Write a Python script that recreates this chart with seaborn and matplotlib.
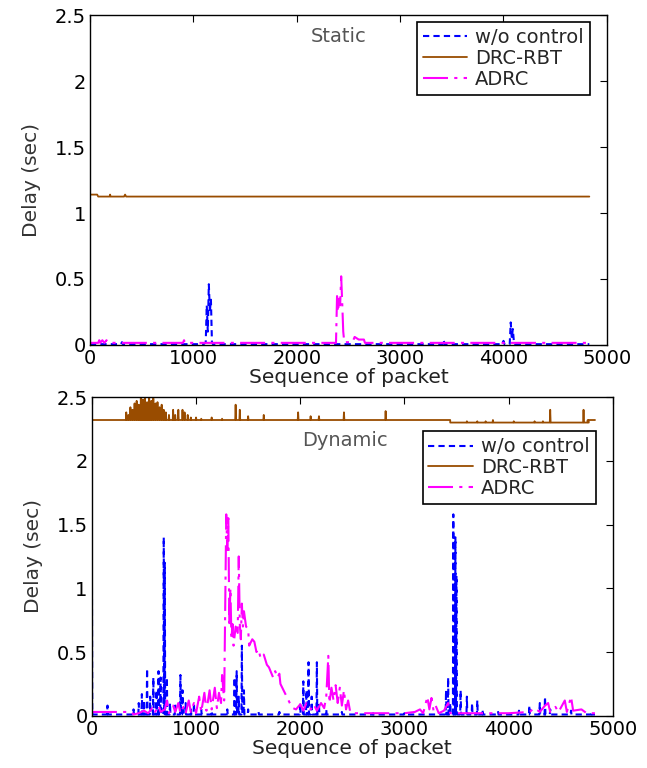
import numpy as np
import pandas as pd
import matplotlib
matplotlib.use("Agg")
import matplotlib.pyplot as plt
import seaborn as sns

# ---------------- data ----------------
# Static scenario
st_wo_x = [0, 300, 310, 320, 1100, 1120, 1130, 1140, 1150, 1160, 1170, 1180, 1190,
           3410, 3420, 3430, 3990, 4000, 4010, 4060, 4070, 4080, 4090, 4100, 4110, 4830]
st_wo_y = [0.005, 0.005, 0.02, 0.005, 0.005, 0.02, 0.30, 0.10, 0.46, 0.25, 0.35, 0.02, 0.005,
           0.005, 0.04, 0.005, 0.005, 0.03, 0.005, 0.005, 0.17, 0.05, 0.12, 0.03, 0.005, 0.005]
st_drc_x = [0, 70, 80, 190, 195, 200, 330, 340, 350, 4830]
st_drc_y = [1.14, 1.14, 1.125, 1.125, 1.14, 1.125, 1.125, 1.14, 1.125, 1.125]
st_adrc_x = [0, 80, 90, 100, 120, 140, 160, 180, 200, 900, 910, 920, 2380, 2390, 2400, 2410,
             2420, 2430, 2440, 2450, 2460, 2540, 2560, 2600, 2650, 2660, 4830]
st_adrc_y = [0.015, 0.015, 0.035, 0.015, 0.035, 0.015, 0.035, 0.015, 0.015, 0.015, 0.035, 0.015,
             0.015, 0.37, 0.25, 0.35, 0.30, 0.52, 0.32, 0.10, 0.02, 0.02, 0.06, 0.04, 0.04,
             0.015, 0.015]

# Dynamic scenario
dy_wo_spike_x = [0, 150, 400, 450, 480, 500, 530, 560, 590, 620, 640, 660, 690, 700, 720, 750,
                 800, 850, 870, 900, 950, 980, 1050, 1150, 1300, 1370, 1390, 1410, 1440, 1460,
                 1500, 1600, 1800, 2000, 2030, 2060, 2080, 2110, 2160, 2180, 2250, 2400, 2700,
                 3000, 3400, 3420, 3440, 3470, 3490, 3500, 3540, 3600, 3650, 3700, 3750, 3900,
                 4100, 4200, 4300, 4350, 4400, 4600, 4800]
dy_wo_spike_y = [1.28, 0.08, 0.05, 0.10, 0.17, 0.12, 0.37, 0.15, 0.30, 0.20, 0.35, 0.30, 1.40,
                 1.20, 0.30, 0.10, 0.08, 0.32, 0.20, 0.10, 0.05, 0.10, 0.05, 0.04, 0.05, 0.30,
                 0.35, 0.15, 0.55, 0.20, 0.05, 0.03, 0.03, 0.10, 0.27, 0.20, 0.42, 0.15, 0.42,
                 0.10, 0.05, 0.03, 0.02, 0.02, 0.20, 0.30, 0.10, 1.58, 1.40, 1.10, 0.20, 0.15,
                 0.10, 0.12, 0.05, 0.03, 0.04, 0.08, 0.10, 0.15, 0.05, 0.04, 0.03]
dy_wo_base = 0.01
dy_end = 4830

dy_drc_spike_x = [330, 350, 370, 390, 410, 430, 450, 470, 490, 510, 530, 550, 570, 590, 610,
                  630, 650, 670, 690, 710, 740, 780, 800, 830, 870, 890, 920, 950, 1000, 1050,
                  1150, 1250, 1380, 1420, 1500, 1650, 1980, 2100, 2180, 2420, 2820,
                  3600, 3700, 3780, 3850, 4050, 4250, 4330, 4400, 4720, 4760]
dy_drc_spike_y = [2.38, 2.36, 2.42, 2.40, 2.45, 2.47, 2.44, 2.50, 2.48, 2.50, 2.46, 2.50, 2.47,
                  2.49, 2.45, 2.46, 2.42, 2.44, 2.40, 2.38, 2.36, 2.40, 2.36, 2.40, 2.40, 2.38,
                  2.36, 2.34, 2.34, 2.33, 2.34, 2.33, 2.44, 2.40, 2.35, 2.36, 2.38, 2.35, 2.35,
                  2.38, 2.39, 2.31, 2.31, 2.31, 2.32, 2.31, 2.31, 2.31, 2.40, 2.40, 2.32]
dy_drc_base_early = 2.32
dy_drc_base_late = 2.30
dy_drc_step_x = [3440, 4770]          # where the baseline drops, and where it returns

dy_adrc_x = [0, 380, 400, 450, 500, 540, 580, 600, 640, 660, 700, 720, 740, 780, 800, 830, 850,
             880, 900, 930, 950, 980, 1000, 1030, 1050, 1080, 1100, 1130, 1150, 1180, 1200, 1220,
             1240, 1250, 1270, 1290, 1300, 1310, 1320, 1330, 1340, 1350, 1360, 1380, 1400, 1410,
             1420, 1430, 1440, 1450, 1460, 1480, 1500, 1510, 1540, 1560, 1580, 1600, 1620, 1650,
             1680, 1700, 1720, 1740, 1760, 1780, 1800, 1810, 1840, 1870, 1900, 1930, 1960, 2000,
             2030, 2060, 2100, 2130, 2160, 2200, 2230, 2250, 2270, 2280, 2300, 2320, 2340, 2360,
             2380, 2400, 2420, 2440, 2460, 2480, 2500, 2800, 3000, 3100, 3150, 3180, 3200, 3220,
             3240, 3260, 3280, 3300, 3330, 3380, 3420, 3440, 3500, 3800, 4000, 4200, 4250, 4300,
             4350, 4380, 4400, 4450, 4480, 4540, 4560, 4600, 4620, 4700, 4750, 4830]
dy_adrc_y = [0.03, 0.03, 0.01, 0.02, 0.04, 0.02, 0.06, 0.02, 0.08, 0.03, 0.05, 0.12, 0.02, 0.08,
             0.03, 0.10, 0.02, 0.07, 0.02, 0.12, 0.03, 0.10, 0.02, 0.15, 0.03, 0.18, 0.04, 0.20,
             0.05, 0.22, 0.06, 0.18, 0.10, 0.32, 0.12, 1.58, 1.30, 1.55, 0.70, 1.00, 0.60, 0.72,
             0.55, 0.70, 0.65, 1.25, 0.72, 0.60, 0.88, 0.70, 0.82, 0.70, 0.68, 0.55, 0.60, 0.58,
             0.50, 0.52, 0.45, 0.48, 0.40, 0.38, 0.34, 0.30, 0.35, 0.30, 0.33, 0.25, 0.20, 0.15,
             0.10, 0.06, 0.05, 0.09, 0.04, 0.10, 0.05, 0.09, 0.04, 0.10, 0.06, 0.15, 0.47, 0.10,
             0.22, 0.12, 0.24, 0.10, 0.22, 0.08, 0.20, 0.05, 0.12, 0.03, 0.02, 0.02, 0.02, 0.03,
             0.05, 0.02, 0.08, 0.15, 0.05, 0.14, 0.04, 0.08, 0.02, 0.04, 0.10, 0.02, 0.02, 0.02,
             0.02, 0.03, 0.06, 0.03, 0.08, 0.10, 0.03, 0.07, 0.03, 0.12, 0.03, 0.15, 0.04, 0.05,
             0.02, 0.02]

series_names = ["w/o control", "DRC-RBT", "ADRC"]
x_ticks = [0, 1000, 2000, 3000, 4000, 5000]
y_ticks = [0, 0.5, 1, 1.5, 2, 2.5]
y_tick_labels = ["0", "0.5", "1", "1.5", "2", "2.5"]


def spikes_to_path(xs, ys, base_fn, end, steps=()):
    """Build a polyline from spike positions/heights on a (piecewise) baseline."""
    pts = [(0, base_fn(0))]
    for x, h in zip(xs, ys):
        if x == 0:
            pts += [(0, h), (4, base_fn(4))]
            continue
        pts += [(x - 4, base_fn(x - 4)), (x, h), (x + 4, base_fn(x + 4))]
    for s in steps:
        pts += [(s, base_fn(s - 1)), (s, base_fn(s + 1))]
    pts.append((end, base_fn(end)))
    pts.sort(key=lambda p: p[0])
    return [p[0] for p in pts], [p[1] for p in pts]


dy_wo_x, dy_wo_y = spikes_to_path(dy_wo_spike_x, dy_wo_spike_y, lambda x: dy_wo_base, dy_end)


def drc_base(x):
    if dy_drc_step_x[0] < x < dy_drc_step_x[1]:
        return dy_drc_base_late
    return dy_drc_base_early


dy_drc_x, dy_drc_y = spikes_to_path(dy_drc_spike_x, dy_drc_spike_y, drc_base, dy_end,
                                    steps=dy_drc_step_x)

# ---------------- styling ----------------
sns.set_theme(style="white")
plt.rcParams["font.family"] = ["DejaVu Sans"]

COL_WO = "#0000FF"
COL_DRC = "#994C00"
COL_ADRC = "#FF00FF"

fig = plt.figure(figsize=(6.47, 7.68), dpi=100)
ax1 = fig.add_axes([0.139, 0.551, 0.799, 0.429])
ax2 = fig.add_axes([0.142, 0.068, 0.805, 0.415])


def draw(ax, wx, wy, dx, dy, ax_x, ax_y, title, tx, ty, leg_anchor):
    sns.lineplot(x=wx, y=wy, ax=ax, color=COL_WO, linestyle=(0, (3, 2)), lw=1.5,
                 estimator=None, sort=False, label=series_names[0])
    sns.lineplot(x=dx, y=dy, ax=ax, color=COL_DRC, linestyle="-", lw=1.3,
                 estimator=None, sort=False, label=series_names[1])
    sns.lineplot(x=ax_x, y=ax_y, ax=ax, color=COL_ADRC, linestyle=(0, (12, 3, 1.5, 3)), lw=1.5,
                 estimator=None, sort=False, label=series_names[2])
    ax.set_xlim(0, 5000)
    ax.set_ylim(0, 2.5)
    ax.set_xticks(x_ticks)
    ax.set_xticklabels([str(t) for t in x_ticks])
    ax.set_yticks(y_ticks)
    ax.set_yticklabels(y_tick_labels)
    ax.tick_params(direction="in", top=True, right=True, length=5, width=0.8,
                   labelsize=14, colors="black", pad=3)
    for s in ax.spines.values():
        s.set_visible(True)
        s.set_color("black")
        s.set_linewidth(1.0)
    ax.set_xlabel("Sequence of packet", fontsize=14.5, color="#222222", labelpad=0)
    ax.set_ylabel("Delay (sec)", fontsize=14.5, color="#333333", labelpad=10)
    ax.text(tx, ty, title, fontsize=14, color="#555555", ha="center", va="center")
    leg = ax.legend(loc="upper right", bbox_to_anchor=leg_anchor, fontsize=14,
                    frameon=True, fancybox=False, edgecolor="black", framealpha=1,
                    handlelength=2.3, borderpad=0.3, labelspacing=0.1, handletextpad=0.4,
                    borderaxespad=0)
    leg.get_frame().set_linewidth(1.2)


draw(ax1, st_wo_x, st_wo_y, st_drc_x, st_drc_y, st_adrc_x, st_adrc_y,
     "Static", 2410, 2.34, (0.967, 0.979))
draw(ax2, dy_wo_x, dy_wo_y, dy_drc_x, dy_drc_y, dy_adrc_x, dy_adrc_y,
     "Dynamic", 2430, 2.16, (0.967, 0.892))

fig.savefig("out.png", dpi=100)
